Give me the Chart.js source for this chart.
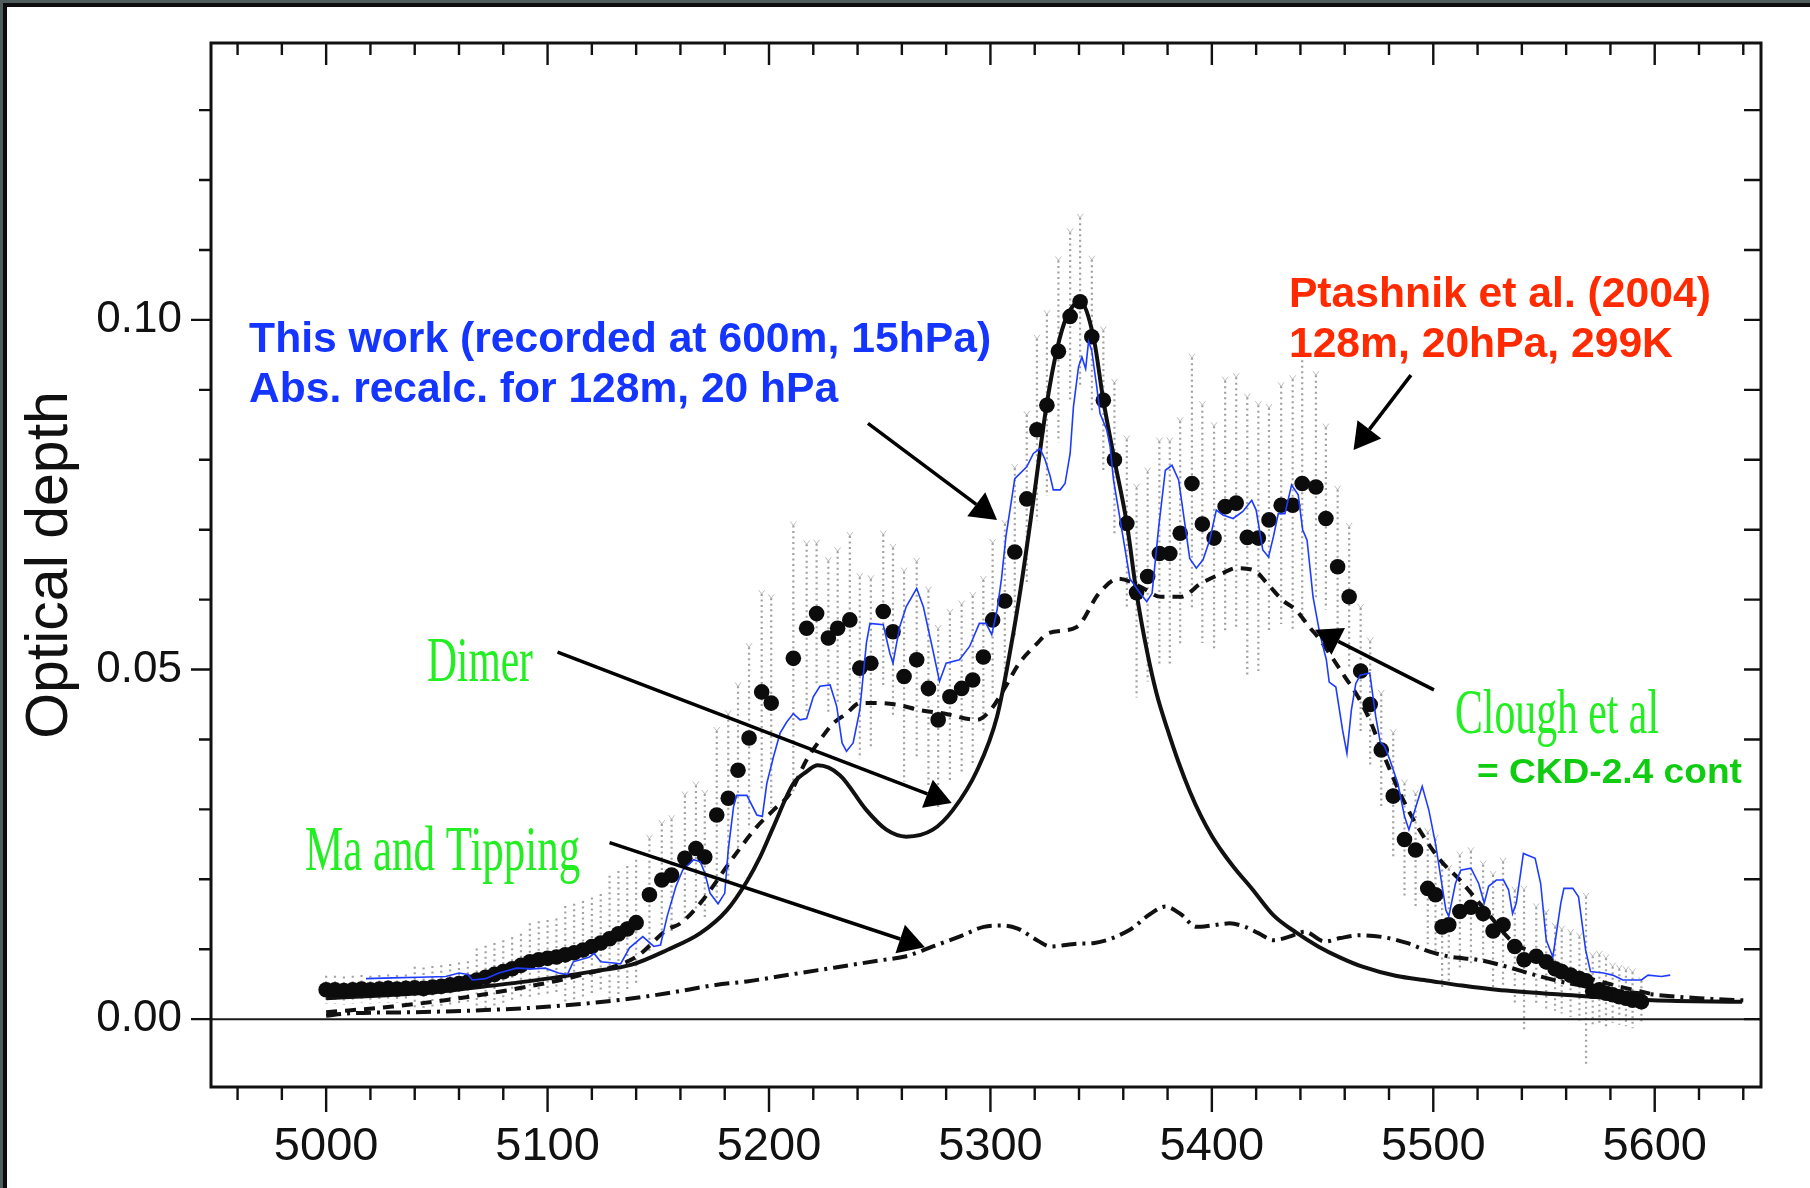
<!DOCTYPE html>
<html>
<head>
<meta charset="utf-8">
<script src="https://cdn.jsdelivr.net/npm/chart.js@4.4.0/dist/chart.umd.min.js"></script>
<style>
html,body{margin:0;padding:0;background:#fff;overflow:hidden}
canvas{display:block}
</style>
</head>
<body>
<canvas id="c" width="1810" height="1188"></canvas>
<script>
// ---------- tick labels ----------
const xTickValues = [5000, 5100, 5200, 5300, 5400, 5500, 5600];
const yTickValues = [0, 0.05, 0.10];
const yTickLabels = ['0.00', '0.05', '0.10'];

// ---------- Dimer (solid) ----------
const dimerX = [5000,5025,5050,5075,5100,5120,5138,5154,5169,5181,5190,5196,5202,5211,5217,5222,5232,5244,5253,5262,5274,5283,5294,5303,5309,5314,5319.4,5325.5,5330,5334.5,5340.5,5346.5,5351,5356,5361.6,5366,5370.6,5375,5380,5385,5390,5395,5400,5405,5410,5418,5428,5438,5448,5458,5468,5483,5498,5513,5528.6,5558.8,5599,5639.5];
const dimerY = [0.0030,0.0034,0.0039,0.0048,0.0058,0.0068,0.0078,0.0099,0.0123,0.0156,0.0197,0.0232,0.0275,0.0337,0.0354,0.0363,0.0349,0.0299,0.0271,0.0261,0.0271,0.0299,0.0356,0.0433,0.0528,0.0623,0.0742,0.0881,0.0957,0.1005,0.1026,0.0976,0.0885,0.0800,0.0709,0.0609,0.0528,0.0466,0.0414,0.0367,0.0326,0.0291,0.0262,0.0238,0.0217,0.0187,0.0148,0.0124,0.0104,0.0088,0.0075,0.0062,0.0055,0.0048,0.0042,0.0035,0.0027,0.0025];

// ---------- Clough et al (dashed) ----------
const cloughX = [5000,5030,5060,5090,5115,5140,5154,5160,5169,5184,5194.5,5202,5209.5,5217,5223,5229,5235,5241,5249,5259,5268,5279,5294,5300,5306,5313,5321,5326,5339,5349,5358,5368,5377,5386,5395,5405,5411,5419,5425,5432,5438,5444,5449,5455,5460,5466,5472,5476,5481,5485,5492,5503,5512,5525,5536,5546,5560,5580,5600];
const cloughY = [0.0010,0.0018,0.0030,0.0046,0.0063,0.0089,0.0128,0.0137,0.0166,0.0232,0.0275,0.0299,0.0323,0.0371,0.0399,0.0423,0.0437,0.0452,0.0452,0.0449,0.0442,0.0437,0.0428,0.0442,0.0471,0.0509,0.0537,0.0552,0.0561,0.0609,0.0630,0.0618,0.0604,0.0604,0.0623,0.0638,0.0645,0.0642,0.0623,0.0599,0.0585,0.0561,0.0542,0.0514,0.0490,0.0461,0.0423,0.0390,0.0352,0.0323,0.0280,0.0228,0.0199,0.0150,0.0110,0.0094,0.0070,0.0050,0.0035];

// ---------- Ma and Tipping (dash-dot) ----------
const maX = [5000,5009,5040,5072,5101,5131,5154,5176,5190,5210,5230,5250,5262,5274,5286,5297,5305,5312,5321,5327,5340,5347,5363,5372,5379,5386,5393,5400,5408,5415,5421,5428,5435,5442,5451,5458,5467,5478,5488,5498,5508,5520,5531,5545,5560,5580,5600,5620,5640];
const maY = [0.0005,0.0008,0.0010,0.0013,0.0018,0.0027,0.0037,0.0049,0.0054,0.0064,0.0074,0.0084,0.0090,0.0104,0.0118,0.0132,0.0134,0.0130,0.0113,0.0104,0.0108,0.0109,0.0128,0.0150,0.0161,0.0150,0.0132,0.0134,0.0137,0.0132,0.0123,0.0113,0.0118,0.0125,0.0111,0.0116,0.0120,0.0117,0.0109,0.0097,0.0089,0.0085,0.0077,0.0064,0.0052,0.0042,0.0035,0.0030,0.0027];

// ---------- This work (blue) ----------
const blueX = [5018,5030,5042,5054,5060,5064,5066,5072,5078,5086,5093,5099,5105,5109,5111.6,5119,5121,5124,5131,5133,5137,5143,5148,5151,5154,5158,5161,5166,5169,5171,5173.4,5177,5180,5181.6,5184,5185.4,5190,5194.5,5197,5199,5202,5205,5208,5211,5214,5217,5220,5223,5227.6,5230.6,5233,5235,5238,5241,5244,5245.6,5251.6,5254.6,5256,5259,5262,5266.7,5269.7,5274,5277,5280,5286,5290.6,5295,5298,5300.6,5303,5305,5307,5311,5316.4,5319.4,5322.4,5324.7,5327,5328.4,5331.5,5333.7,5336,5337.5,5339.8,5341.3,5343,5344.3,5345.7,5348,5349.5,5352.5,5354,5355.6,5358.6,5363,5367.6,5370.6,5373,5376,5379,5382,5385,5388,5390,5393,5396,5399,5402,5405,5409.6,5414,5418,5420,5423,5425.6,5427.8,5430,5433,5436,5439,5441,5443,5445.7,5448.7,5451.7,5453,5456,5459,5461,5463,5465,5467,5471.3,5474,5476,5478,5480.5,5484,5487,5489,5491.7,5495,5498,5501,5505.7,5507,5510,5512.4,5517,5520.5,5523,5525,5528.5,5531.7,5534,5535.8,5537.5,5540.7,5546,5548.5,5551,5554,5557.6,5559,5563,5565.6,5568.8,5571,5576.8,5581,5585.6,5590,5594,5597,5603,5607];
const blueY = [0.0058,0.0059,0.0060,0.0061,0.0066,0.0064,0.0056,0.0058,0.0066,0.0073,0.0072,0.0073,0.0066,0.0064,0.0082,0.0089,0.0094,0.0082,0.0080,0.0079,0.0102,0.0118,0.0104,0.0106,0.0147,0.0190,0.0213,0.0228,0.0225,0.0209,0.0180,0.0165,0.0180,0.0242,0.0304,0.0320,0.0320,0.0292,0.0290,0.0337,0.0375,0.0409,0.0425,0.0437,0.0428,0.0430,0.0461,0.0476,0.0478,0.0447,0.0395,0.0383,0.0395,0.0442,0.0538,0.0566,0.0564,0.0523,0.0509,0.0561,0.0590,0.0616,0.0590,0.0528,0.0483,0.0509,0.0514,0.0533,0.0566,0.0566,0.0550,0.0585,0.0630,0.0690,0.0773,0.0790,0.0809,0.0816,0.0800,0.0776,0.0757,0.0757,0.0766,0.0809,0.0876,0.0933,0.0947,0.0930,0.0969,0.0957,0.0905,0.0866,0.0843,0.0820,0.0771,0.0714,0.0630,0.0609,0.0597,0.0609,0.0704,0.0785,0.0792,0.0771,0.0704,0.0659,0.0645,0.0657,0.0685,0.0728,0.0721,0.0716,0.0726,0.0742,0.0728,0.0671,0.0661,0.0690,0.0723,0.0723,0.0764,0.0750,0.0700,0.0685,0.0604,0.0552,0.0514,0.0482,0.0475,0.0414,0.0380,0.0442,0.0480,0.0492,0.0495,0.0433,0.0397,0.0390,0.0370,0.0337,0.0290,0.0271,0.0299,0.0333,0.0299,0.0251,0.0156,0.0147,0.0194,0.0213,0.0216,0.0194,0.0166,0.0190,0.0199,0.0199,0.0185,0.0151,0.0166,0.0237,0.0230,0.0194,0.0113,0.0089,0.0166,0.0187,0.0187,0.0175,0.0099,0.0068,0.0066,0.0063,0.0056,0.0056,0.0056,0.0063,0.0061,0.0063];

// ---------- Ptashnik et al. (2004) measured points ----------
const ptX = [5000,5004,5008,5012,5016,5020,5024,5028,5032,5036,5040,5044,5048,5052,5056,5060,5064,5068,5072,5076,5080,5084,5088,5092,5096,5100,5104,5108,5112,5116,5120,5124,5128,5132,5136,5140,
5146,5151.6,5156,5162,5167,5171,5176.4,5181.6,5186,5191,5196.7,5201,5211,5217,5221.5,5226.8,5231,5236.5,5241,5246,5251.6,5256,5261,5266.7,5272,5276.4,5281.7,5287,5292,5296.8,5301,5306.5,5311,5316.4,5321,5325.5,5330.7,5336,5340.5,5345.8,5351,5356,5361.6,5366,5371,5376.3,5381,5385.7,5391,5395.7,5401,5406,5411,5416,5421,5425.8,5431.3,5436.5,5440.8,5447,5451.5,5456.8,5462,5467.2,5471.5,5476.5,5481.9,5487,5492,5497.5,5501,5504,5507,5512,5517,5522.5,5527,5531.5,5536.8,5541,5546.5,5551,5555,5558,5562,5566,5569,5572,5575,5578,5581,5584,5587,5590,5594];
const ptY = [0.0042,0.0042,0.0041,0.0042,0.0043,0.0042,0.0043,0.0044,0.0043,0.0044,0.0045,0.0044,0.0046,0.0047,0.0049,0.0051,0.0053,0.0056,0.0060,0.0064,0.0068,0.0072,0.0077,0.0082,0.0085,0.0087,0.0089,0.0092,0.0095,0.0099,0.0104,0.0109,0.0115,0.0122,0.0129,0.0138,
0.0178,0.0199,0.0206,0.0230,0.0244,0.0232,0.0292,0.0316,0.0356,0.0402,0.0468,0.0452,0.0516,0.0559,0.0580,0.0545,0.0559,0.0571,0.0502,0.0509,0.0583,0.0554,0.0490,0.0514,0.0473,0.0428,0.0461,0.0473,0.0485,0.0518,0.0571,0.0598,0.0668,0.0744,0.0843,0.0878,0.0955,0.1005,0.1026,0.0976,0.0885,0.0800,0.0709,0.0610,0.0633,0.0666,0.0666,0.0695,0.0766,0.0708,0.0688,0.0733,0.0738,0.0689,0.0688,0.0714,0.0735,0.0735,0.0766,0.0761,0.0716,0.0647,0.0604,0.0498,0.0450,0.0385,0.0319,0.0257,0.0242,0.0187,0.0178,0.0132,0.0135,0.0154,0.0160,0.0151,0.0126,0.0135,0.0104,0.0085,0.0090,0.0082,0.0072,0.0068,0.0063,0.0058,0.0055,0.0040,0.0042,0.0037,0.0035,0.0032,0.0030,0.0027,0.0025];
const ptErr = [0.0020,0.0020,0.0020,0.0020,0.0020,0.0020,0.0020,0.0020,0.0020,0.0020,0.0030,0.0030,0.0030,0.0030,0.0030,0.0030,0.0030,0.0045,0.0045,0.0045,0.0045,0.0045,0.0045,0.0055,0.0055,0.0055,0.0055,0.0070,0.0070,0.0070,0.0070,0.0070,0.0090,0.0090,0.0090,0.0090,
0.008,0.008,0.008,0.009,0.009,0.009,0.012,0.012,0.012,0.013,0.014,0.015,0.019,0.012,0.010,0.011,0.011,0.012,0.013,0.012,0.011,0.012,0.015,0.014,0.014,0.013,0.012,0.012,0.012,0.011,0.011,0.011,0.012,0.012,0.013,0.013,0.013,0.012,0.012,0.011,0.010,0.011,0.012,0.015,0.015,0.016,0.016,0.016,0.018,0.017,0.016,0.018,0.018,0.020,0.019,0.016,0.017,0.018,0.020,0.016,0.013,0.011,0.010,0.009,0.009,0.008,0.009,0.008,0.008,0.008,0.008,0.009,0.008,0.008,0.008,0.007,0.008,0.009,0.008,0.010,0.007,0.007,0.006,0.006,0.006,0.006,0.012,0.005,0.005,0.005,0.004,0.004,0.004,0.004,0.003];

// ---------- styling / layout ----------
const SANS = '"Liberation Sans", Arial, Helvetica, sans-serif';
const SERIF = '"Liberation Serif", "Times New Roman", serif';

const notes = [
  {t: 'This work (recorded at 600m, 15hPa)', x: 4965.2, y: 0.0954, f: 'bold 42px ' + SANS, c: '#1434ff', w: 742},
  {t: 'Abs. recalc. for 128m, 20 hPa', x: 4965.2, y: 0.0883, f: 'bold 42px ' + SANS, c: '#1434ff', w: 589},
  {t: 'Ptashnik et al. (2004)', x: 5434.8, y: 0.1018, f: 'bold 42px ' + SANS, c: '#ff2a00', w: 422},
  {t: '128m, 20hPa, 299K', x: 5434.8, y: 0.0947, f: 'bold 42px ' + SANS, c: '#ff2a00', w: 384},
  {t: 'Dimer', x: 5045.5, y: 0.04836, f: '64px ' + SERIF, c: '#22ee22', w: 106},
  {t: 'Ma and Tipping', x: 4990.5, y: 0.02134, f: '64px ' + SERIF, c: '#22ee22', w: 275},
  {t: 'Clough et al', x: 5509.8, y: 0.04093, f: '64px ' + SERIF, c: '#22ee22', w: 204},
  {t: '= CKD-2.4 cont', x: 5519.7, y: 0.03378, f: 'bold 35px ' + SANS, c: '#10cc10', w: 265}
];
const arrows = [
  [5244.7, 0.0852, 5303.0, 0.0714],
  [5104.5, 0.0525, 5282.5, 0.0309],
  [5128.0, 0.02525, 5270.4, 0.0103],
  [5489.9, 0.0921, 5464.0, 0.0814],
  [5500.3, 0.0471, 5446.6, 0.0557]
];

const pts = (xs, ys) => xs.map((v, i) => ({x: v, y: ys[i]}));

const bgPlugin = {
  id: 'bg',
  beforeDraw(chart) {
    const c = chart.ctx;
    c.save();
    c.fillStyle = '#ffffff';
    c.fillRect(0, 0, chart.width, chart.height);
    c.fillStyle = '#4f5d5c';
    c.fillRect(0, 0, chart.width, 3);
    c.fillRect(0, 0, 3, chart.height);
    c.fillStyle = '#0d0d0d';
    c.fillRect(3, 3, chart.width - 3, 4);
    c.fillRect(3, 3, 4, chart.height - 3);
    c.restore();
  }
};

const underPlugin = {
  id: 'under',
  beforeDatasetsDraw(chart) {
    const {ctx, chartArea: a, scales: {x, y}} = chart;
    ctx.save();
    // error bars
    ctx.strokeStyle = 'rgba(70,70,70,0.5)';
    ctx.lineWidth = 2.2;
    ctx.setLineDash([2, 3.5]);
    for (let i = 0; i < ptX.length; i++) {
      const px = x.getPixelForValue(ptX[i]);
      const t = y.getPixelForValue(ptY[i] + ptErr[i]);
      const b = y.getPixelForValue(ptY[i] - ptErr[i]);
      ctx.beginPath(); ctx.moveTo(px, t); ctx.lineTo(px, b); ctx.stroke();
    }
    ctx.setLineDash([]);
    ctx.lineWidth = 1;
    ctx.strokeStyle = 'rgba(70,70,70,0.35)';
    for (let i = 36; i < ptX.length; i++) {
      const px = x.getPixelForValue(ptX[i]);
      const t = y.getPixelForValue(ptY[i] + ptErr[i]);
      ctx.beginPath(); ctx.moveTo(px - 3, t - 4); ctx.lineTo(px, t); ctx.lineTo(px + 3, t - 4); ctx.stroke();
    }
    // zero line
    const y0 = y.getPixelForValue(0);
    ctx.strokeStyle = '#1a1a1a';
    ctx.lineWidth = 2;
    ctx.beginPath(); ctx.moveTo(a.left, y0); ctx.lineTo(a.right, y0); ctx.stroke();
    ctx.restore();
  }
};

function fitText(ctx, n, px, py) {
  ctx.save();
  ctx.font = n.f;
  const w = ctx.measureText(n.t).width;
  ctx.translate(px, py);
  ctx.scale(n.w / w, 1);
  ctx.fillStyle = n.c;
  ctx.textAlign = 'left';
  ctx.textBaseline = 'alphabetic';
  ctx.fillText(n.t, 0, 0);
  ctx.restore();
}

const notePlugin = {
  id: 'notes',
  afterDatasetsDraw(chart) {
    const {ctx, scales: {x, y}} = chart;
    ctx.save();
    ctx.strokeStyle = '#000';
    ctx.fillStyle = '#000';
    for (const a of arrows) {
      const x1 = x.getPixelForValue(a[0]), y1 = y.getPixelForValue(a[1]);
      const x2 = x.getPixelForValue(a[2]), y2 = y.getPixelForValue(a[3]);
      const ang = Math.atan2(y2 - y1, x2 - x1);
      const L = 26, W = 15;
      const bx = x2 - L * Math.cos(ang), by = y2 - L * Math.sin(ang);
      ctx.lineWidth = 3.5;
      ctx.beginPath(); ctx.moveTo(x1, y1); ctx.lineTo(bx, by); ctx.stroke();
      ctx.beginPath();
      ctx.moveTo(x2, y2);
      ctx.lineTo(bx + W * Math.sin(ang), by - W * Math.cos(ang));
      ctx.lineTo(bx - W * Math.sin(ang), by + W * Math.cos(ang));
      ctx.closePath(); ctx.fill();
    }
    ctx.restore();
    for (const n of notes) {
      fitText(ctx, n, x.getPixelForValue(n.x), y.getPixelForValue(n.y));
    }
  }
};

const framePlugin = {
  id: 'frame',
  afterDraw(chart) {
    const {ctx, chartArea: a, scales: {x, y}} = chart;
    ctx.save();
    ctx.strokeStyle = '#111';
    ctx.lineWidth = 3;
    ctx.strokeRect(a.left, a.top, a.right - a.left, a.bottom - a.top);
    ctx.lineWidth = 2.4;
    ctx.beginPath();
    for (let v = 4960; v <= 5640; v += 20) {
      const px = x.getPixelForValue(v);
      const major = v % 100 === 0;
      ctx.moveTo(px, a.bottom); ctx.lineTo(px, a.bottom + (major ? 25 : 13));
      ctx.moveTo(px, a.top); ctx.lineTo(px, a.top + (major ? 22 : 12));
    }
    for (let k = 0; k <= 13; k++) {
      const py = y.getPixelForValue(k / 100);
      const major = k % 5 === 0;
      ctx.moveTo(a.left, py); ctx.lineTo(a.left - (major ? 20 : 12), py);
      ctx.moveTo(a.right, py); ctx.lineTo(a.right - 17, py);
    }
    ctx.stroke();
    ctx.restore();
  }
};

const noPad = s => { s.paddingTop = 0; s.paddingBottom = 0; s.paddingLeft = 0; s.paddingRight = 0; };

new Chart(document.getElementById('c'), {
  type: 'line',
  data: {
    datasets: [
      {label: 'This work', data: pts(blueX, blueY), borderColor: '#1e3cff', borderWidth: 1.6, pointRadius: 0, tension: 0, fill: false},
      {label: 'Ptashnik et al. (2004)', data: pts(ptX, ptY), showLine: false, pointRadius: 7.8, pointBackgroundColor: '#0c0c0c', pointBorderWidth: 0, borderColor: '#0c0c0c'},
      {label: 'Dimer', data: pts(dimerX, dimerY), borderColor: '#111', borderWidth: 4, pointRadius: 0, cubicInterpolationMode: 'monotone', fill: false},
      {label: 'Clough et al', data: pts(cloughX, cloughY), borderColor: '#111', borderWidth: 4, borderDash: [11, 8], pointRadius: 0, cubicInterpolationMode: 'monotone', fill: false},
      {label: 'Ma and Tipping', data: pts(maX, maY), borderColor: '#111', borderWidth: 4, borderDash: [15, 6, 3, 6], pointRadius: 0, cubicInterpolationMode: 'monotone', fill: false}
    ]
  },
  options: {
    responsive: false,
    animation: false,
    devicePixelRatio: 1,
    layout: {padding: {top: 43, right: 49, left: 0, bottom: 0}},
    plugins: {legend: {display: false}, tooltip: {enabled: false}},
    scales: {
      x: {
        type: 'linear', position: 'bottom', min: 4948, max: 5648,
        afterBuildTicks: s => { s.ticks = xTickValues.map(v => ({value: v})); },
        afterFit: s => { s.height = 101; noPad(s); },
        grid: {display: false, drawTicks: false},
        border: {display: false},
        ticks: {padding: 32, autoSkip: false, maxRotation: 0, color: '#111', font: {family: SANS, size: 47}, callback: v => String(v)}
      },
      y: {
        type: 'linear', position: 'left', min: -0.0097, max: 0.1396,
        afterBuildTicks: s => { s.ticks = yTickValues.map(v => ({value: v})); },
        afterFit: s => { s.width = 211; noPad(s); },
        grid: {display: false, drawTicks: false},
        border: {display: false},
        ticks: {padding: 29, color: '#111', font: {family: SANS, size: 44},
          callback: v => { const i = yTickValues.findIndex(t => Math.abs(t - v) < 1e-9); return i >= 0 ? yTickLabels[i] : ''; }},
        title: {display: true, text: 'Optical depth', color: '#111', font: {family: SANS, size: 59}, padding: {top: 15, bottom: 0}}
      }
    }
  },
  plugins: [bgPlugin, underPlugin, notePlugin, framePlugin]
});
</script>
</body>
</html>
